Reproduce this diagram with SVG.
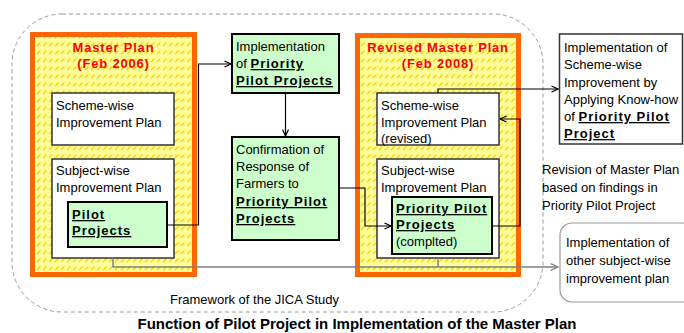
<svg xmlns="http://www.w3.org/2000/svg" width="684" height="333" viewBox="0 0 684 333">
<defs>
<pattern id="hatch" patternUnits="userSpaceOnUse" width="6" height="8">
<rect width="6" height="8" fill="#FFFF99"/>
<line x1="1" y1="6" x2="4.5" y2="2.5" stroke="#FFCC00" stroke-width="1.3"/>
</pattern>
<marker id="ab" viewBox="0 0 8 8" refX="7.5" refY="4" markerWidth="8" markerHeight="8" orient="auto" markerUnits="userSpaceOnUse">
<path d="M1,1 L7.5,4 L1,7" fill="none" stroke="#000" stroke-width="1.2"/>
</marker>
<marker id="ag" viewBox="0 0 8 8" refX="7.5" refY="4" markerWidth="9" markerHeight="9" orient="auto" markerUnits="userSpaceOnUse">
<path d="M1,1 L7.5,4 L1,7" fill="none" stroke="#808080" stroke-width="1.2"/>
</marker>
</defs>
<style>
text{font-family:"Liberation Sans",Arial,sans-serif;font-size:13px;fill:#000}
.b{font-weight:bold;letter-spacing:1px;text-decoration:underline}
.red{font-weight:bold;fill:#FF0000;letter-spacing:0.8px}
.plan{fill:url(#hatch);stroke:#FF6600;stroke-width:5}
.wb{fill:#fff;stroke:#333;stroke-width:1.5}
.gb{fill:#CCFFCC;stroke:#000;stroke-width:2}
.ln{fill:none;stroke:#000;stroke-width:1.2}
.gl{fill:none;stroke:#808080;stroke-width:1.5}
</style>

<g id="framework">
<rect x="12" y="14" width="531" height="298" rx="50" ry="50" fill="none" stroke="#9a9a9a" stroke-width="1" stroke-dasharray="4,3"/>
<text x="170" y="304">Framework of the JICA Study</text>
</g>

<g id="master-plan">
<rect class="plan" x="32.5" y="34.5" width="162" height="240"/>
<text class="red" x="113.5" y="52" text-anchor="middle">Master Plan</text>
<text class="red" x="113.5" y="68" text-anchor="middle">(Feb 2006)</text>
</g>
<g id="scheme-wise">
<rect class="wb" x="52" y="93" width="122" height="52"/>
<text x="56" y="110">Scheme-wise</text>
<text x="56" y="127">Improvement Plan</text>
</g>
<g id="subject-wise">
<rect class="wb" x="52" y="159" width="122" height="99"/>
<text x="56" y="175">Subject-wise</text>
<text x="56" y="192">Improvement Plan</text>
</g>
<g id="pilot-projects">
<rect class="gb" x="68" y="202" width="99" height="45"/>
<text class="b" x="72" y="219">Pilot</text>
<text class="b" x="72" y="235">Projects</text>
</g>

<g id="implementation-ppp">
<rect class="gb" x="232" y="34" width="107" height="59"/>
<text x="236" y="51">Implementation</text>
<text x="236" y="68">of <tspan class="b">Priority</tspan></text>
<text class="b" x="236" y="85">Pilot Projects</text>
</g>
<g id="confirmation">
<rect class="gb" x="232" y="137" width="107" height="103"/>
<text x="236" y="153.5">Confirmation of</text>
<text x="236" y="171">Response of</text>
<text x="236" y="188">Farmers to</text>
<text class="b" x="236" y="206">Priority Pilot</text>
<text class="b" x="236" y="223">Projects</text>
</g>

<g id="revised-master-plan">
<rect class="plan" x="357.5" y="35.5" width="161" height="239"/>
<text class="red" x="438" y="52" text-anchor="middle">Revised Master Plan</text>
<text class="red" x="438" y="68" text-anchor="middle">(Feb 2008)</text>
</g>
<g id="scheme-wise-revised">
<rect class="wb" x="377" y="93" width="122" height="52"/>
<text x="381" y="110">Scheme-wise</text>
<text x="381" y="126.5">Improvement Plan</text>
<text x="381" y="143">(revised)</text>
</g>
<g id="subject-wise-revised">
<rect class="wb" x="377" y="159" width="122" height="99"/>
<text x="381" y="175">Subject-wise</text>
<text x="381" y="192">Improvement Plan</text>
</g>
<g id="priority-pilot-completed">
<rect class="gb" x="392" y="197" width="100" height="57"/>
<text class="b" x="396" y="213">Priority Pilot</text>
<text class="b" x="396" y="229">Projects</text>
<text x="396" y="246">(complted)</text>
</g>

<g id="implementation-scheme">
<rect fill="#fff" stroke="#333" stroke-width="1.5" x="559.5" y="34" width="123" height="110"/>
<text x="564" y="52">Implementation of</text>
<text x="564" y="69">Scheme-wise</text>
<text x="564" y="86.5">Improvement by</text>
<text x="564" y="104">Applying Know-how</text>
<text x="564" y="121">of <tspan class="b">Priority Pilot</tspan></text>
<text class="b" x="564" y="138">Project</text>
</g>
<g id="revision-note">
<text x="542" y="174">Revision of Master Plan</text>
<text x="542" y="192">based on findings in</text>
<text x="542" y="210">Priority Pilot Project</text>
</g>
<g id="implementation-other">
<rect fill="#fff" stroke="#999" stroke-width="1.2" x="560" y="223" width="135" height="79" rx="12" ry="12"/>
<text x="566" y="247">Implementation of</text>
<text x="566" y="265">other subject-wise</text>
<text x="566" y="283">improvement plan</text>
</g>

<g id="connectors">
<polyline class="ln" points="167,225 198.5,225 198.5,64 231,64" marker-end="url(#ab)"/>
<line class="ln" x1="285.5" y1="93" x2="285.5" y2="136" marker-end="url(#ab)"/>
<polyline class="ln" points="339,188 365,188 365,226 391,226" marker-end="url(#ab)"/>
<polyline class="ln" points="492,226 520,226 520,119 500,119" marker-end="url(#ab)"/>
<polyline class="ln" points="438,93 438,89 558,89" marker-end="url(#ab)"/>
<polyline class="gl" points="113,258 113,267 558,267" marker-end="url(#ag)"/>
<line class="gl" x1="438" y1="258" x2="438" y2="267"/>
</g>

<text x="357" y="329" text-anchor="middle" style="font-weight:bold;font-size:14.5px" textLength="439" lengthAdjust="spacingAndGlyphs">Function of Pilot Project in Implementation of the Master Plan</text>
</svg>
